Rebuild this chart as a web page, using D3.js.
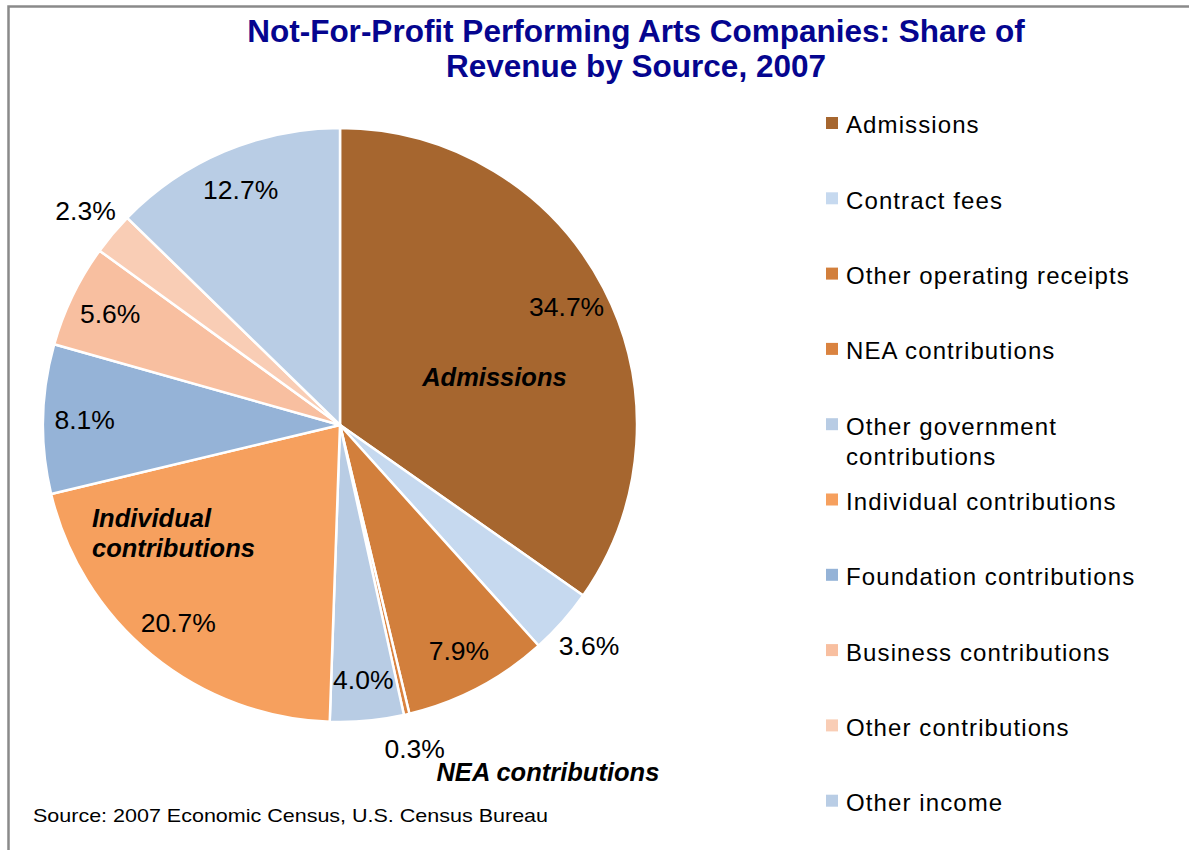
<!DOCTYPE html>
<html>
<head>
<meta charset="utf-8">
<script src="https://cdn.jsdelivr.net/npm/d3@7"></script>
<style>
  body { margin: 0; background: #fff; }
  svg { display: block; }
  text { font-family: "Liberation Sans", Arial, sans-serif; }
</style>
</head>
<body>
<div id="chart"></div>
<script>
// data
var categories = ["Admissions", "Contract fees", "Other operating receipts", "NEA contributions",
    "Other government contributions", "Individual contributions", "Foundation contributions",
    "Business contributions", "Other contributions", "Other income"];
var shares = [34.7, 3.6, 7.9, 0.3, 4.0, 20.7, 8.1, 5.6, 2.3, 12.7];
var colors = ["#a6662f", "#c6d9ef", "#d27f3c", "#da8340", "#b8cce4", "#f6a05e", "#95b3d7",
    "#f8bfa0", "#f9cdb5", "#b9cde5"];
var legendLines = [["Admissions"], ["Contract fees"], ["Other operating receipts"], ["NEA contributions"],
    ["Other government", "contributions"], ["Individual contributions"], ["Foundation contributions"],
    ["Business contributions"], ["Other contributions"], ["Other income"]];
var titleLines = ["Not-For-Profit Performing Arts  Companies: Share of", "Revenue by Source, 2007"];
var sourceNote = "Source: 2007 Economic Census, U.S. Census Bureau";

var W = 1189, H = 850;
var cx = 340, cy = 425, R = 297;

var svg = d3.select("#chart").append("svg")
    .attr("width", W)
    .attr("height", H);

// frame (only top and left edges are visible)
svg.append("path")
    .attr("d", "M8.5," + H + "V6.5H" + W)
    .attr("fill", "none")
    .attr("stroke", "#8a8a8a")
    .attr("stroke-width", 2.5);

// title
svg.append("g").selectAll("text")
    .data(titleLines)
    .enter()
    .append("text")
    .attr("x", 636)
    .attr("y", function(d, i) { return 42 + i * 35; })
    .attr("text-anchor", "middle")
    .attr("font-size", 31.5)
    .attr("font-weight", "bold")
    .attr("fill", "#05058f")
    .text(function(d) { return d; });

var pie = d3.pie().sort(null).value(function(d) { return d; });
var arcs = pie(shares);
var arc = d3.arc().innerRadius(0).outerRadius(R);

var g = svg.append("g").attr("transform", "translate(" + cx + "," + cy + ")");

g.selectAll("path")
    .data(arcs)
    .enter()
    .append("path")
    .attr("d", arc)
    .attr("fill", function(d, i) { return colors[i]; })
    .attr("stroke", "#fff")
    .attr("stroke-width", 2.5)
    .attr("stroke-linejoin", "round");

// percent labels: small slices sit outside the pie
function labelPos(d) {
    var k = d.data < 4 ? 1.12 : 0.86;
    return d3.arc().innerRadius(R * k).outerRadius(R * k).centroid(d);
}

g.selectAll("text.pct")
    .data(arcs)
    .enter()
    .append("text")
    .attr("class", "pct")
    .attr("transform", function(d) { return "translate(" + labelPos(d) + ")"; })
    .attr("text-anchor", "middle")
    .attr("dy", "0.35em")
    .attr("font-size", 26.5)
    .attr("fill", "#000")
    .text(function(d) { return d.data.toFixed(1) + "%"; });

// category call-outs
var callout = g.append("g")
    .attr("font-size", 25.5)
    .attr("font-weight", "bold")
    .attr("font-style", "italic")
    .attr("fill", "#000");
callout.append("text")
    .attr("x", R * 0.52).attr("y", -R * 0.16)
    .attr("text-anchor", "middle").attr("dy", "0.35em")
    .text(categories[0]);
callout.append("text")
    .attr("x", R * 0.70).attr("y", R * 1.168)
    .attr("text-anchor", "middle").attr("dy", "0.35em")
    .text(categories[3]);
callout.append("text")
    .attr("x", -R * 0.835).attr("y", R * 0.313)
    .attr("dy", "0.35em")
    .text("Individual");
callout.append("text")
    .attr("x", -R * 0.835).attr("y", R * 0.414)
    .attr("dy", "0.35em")
    .text("contributions");

// legend
var legend = svg.append("g").attr("transform", "translate(826,125)");
var rows = legend.selectAll("g")
    .data(categories)
    .enter()
    .append("g")
    .attr("transform", function(d, i) { return "translate(0," + (i * 75.3) + ")"; });
rows.append("rect")
    .attr("x", 0).attr("y", -8)
    .attr("width", 12).attr("height", 12)
    .attr("fill", function(d, i) { return colors[i]; });
rows.each(function(d, i) {
    var t = d3.select(this).append("text")
        .attr("x", 20)
        .attr("font-size", 24)
        .attr("letter-spacing", 1.1)
        .attr("fill", "#000");
    legendLines[i].forEach(function(line, j) {
        t.append("tspan")
            .attr("x", 20)
            .attr("y", j * 30)
            .attr("dy", "0.35em")
            .text(line);
    });
});

// source note
svg.append("text")
    .attr("x", 33)
    .attr("y", 815)
    .attr("dy", "0.35em")
    .attr("font-size", 19)
    .attr("textLength", 515)
    .attr("lengthAdjust", "spacingAndGlyphs")
    .attr("fill", "#000")
    .text(sourceNote);
</script>
</body>
</html>
